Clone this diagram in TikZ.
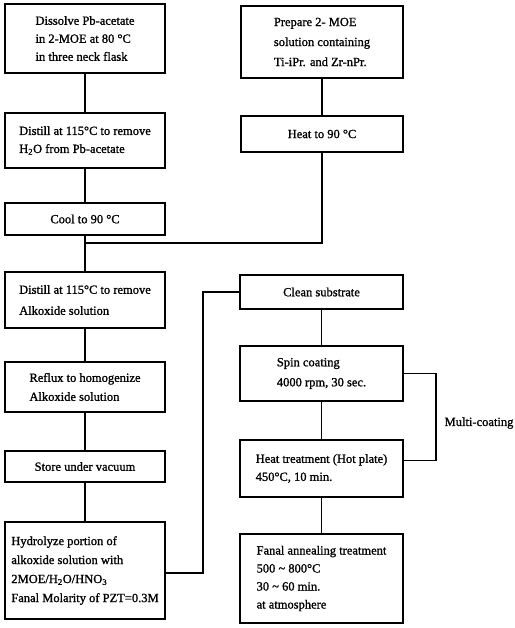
\documentclass[tikz,border=0pt]{standalone}
\usepackage{fontspec}
\setmainfont{Liberation Serif}[BoldFont={Liberation Serif}, BoldFeatures={FakeBold=1.2}]
\begin{document}
\begin{tikzpicture}[x=1pt,y=-1pt, line width=1.3pt,
  box/.style={draw, rectangle, inner sep=0pt, align=left, font=\fontsize{12.5}{18}\selectfont\bfseries},
  lbl/.style={font=\fontsize{12.5}{18}\selectfont\bfseries, inner sep=0pt}]
\useasboundingbox (0,0) rectangle (514,628);
% left column
\node[box, minimum width=160pt, minimum height=69pt] (l1) at (85,38.5) {Dissolve Pb-acetate\\in 2-MOE at 80 °C\\in three neck flask};
\node[box, minimum width=160pt, minimum height=55pt] (l2) at (85,140.5) {Distill at 115°C to remove\\H\textsubscript{2}O from Pb-acetate};
\node[box, minimum width=160pt, minimum height=32pt] (l3) at (85,219) {Cool to 90 °C};
\node[box, minimum width=160pt, minimum height=56pt, font=\fontsize{12.5}{21}\selectfont\bfseries] (l4) at (85,300) {Distill at 115°C to remove\\Alkoxide solution};
\node[box, minimum width=160pt, minimum height=50pt, font=\fontsize{12.5}{19}\selectfont\bfseries] (l5) at (85,387) {Reflux to homogenize\\Alkoxide solution};
\node[box, minimum width=160pt, minimum height=31pt] (l6) at (85,466.5) {Store under vacuum};
\node[box, minimum width=160pt, minimum height=97pt, font=\fontsize{12.5}{19}\selectfont\bfseries] (l7) at (85,570.5) {Hydrolyze portion of\\alkoxide solution with\\2MOE/H\textsubscript{2}O/HNO\textsubscript{3}\\Fanal Molarity of PZT=0.3M};
% right column
\node[box, minimum width=162pt, minimum height=72pt, font=\fontsize{12.5}{20}\selectfont\bfseries] (r1) at (322,42) {Prepare 2- MOE\\solution containing\\Ti-iPr. and Zr-nPr.};
\node[box, minimum width=162pt, minimum height=36pt] (r2) at (322,134) {Heat to 90 °C};
\node[box, minimum width=163pt, minimum height=34pt] (r3) at (321.5,292) {Clean substrate};
\node[box, minimum width=163pt, minimum height=55pt, font=\fontsize{12.5}{20}\selectfont\bfseries] (r4) at (321.5,373.5) {Spin coating\\4000 rpm, 30 sec.};
\node[box, minimum width=163pt, minimum height=57pt] (r5) at (321.5,468.5) {Heat treatment (Hot plate)\\450°C, 10 min.};
\node[box, minimum width=163pt, minimum height=89pt] (r6) at (321.5,578.5) {Fanal annealing treatment\\500 \textasciitilde{} 800°C\\30 \textasciitilde{} 60 min.\\at atmosphere};
\node[lbl, anchor=west] (mc) at (444,423) {Multi-coating};
% coordinates
\coordinate (j) at (85,243);
\coordinate (h) at (203,573);
\coordinate (m) at (436,420);
% connectors
\draw (l1) -- (l2);
\draw (l2) -- (l3);
\draw (l3) -- (l4);
\draw (l4) -- (l5);
\draw (l5) -- (l6);
\draw (l6) -- (l7);
\draw (r1.south -| r2.south) -- (r2.north);
\draw (r2.south) |- (j);
\draw (l7.east |- h) -- (h) |- (r3.west);
\draw (r3) -- (r4);
\draw (r4) -- (r5);
\draw (r5) -- (r6);
\draw (r4.east) -| (m) |- ([yshift=8pt]r5.east);
\end{tikzpicture}
\end{document}
